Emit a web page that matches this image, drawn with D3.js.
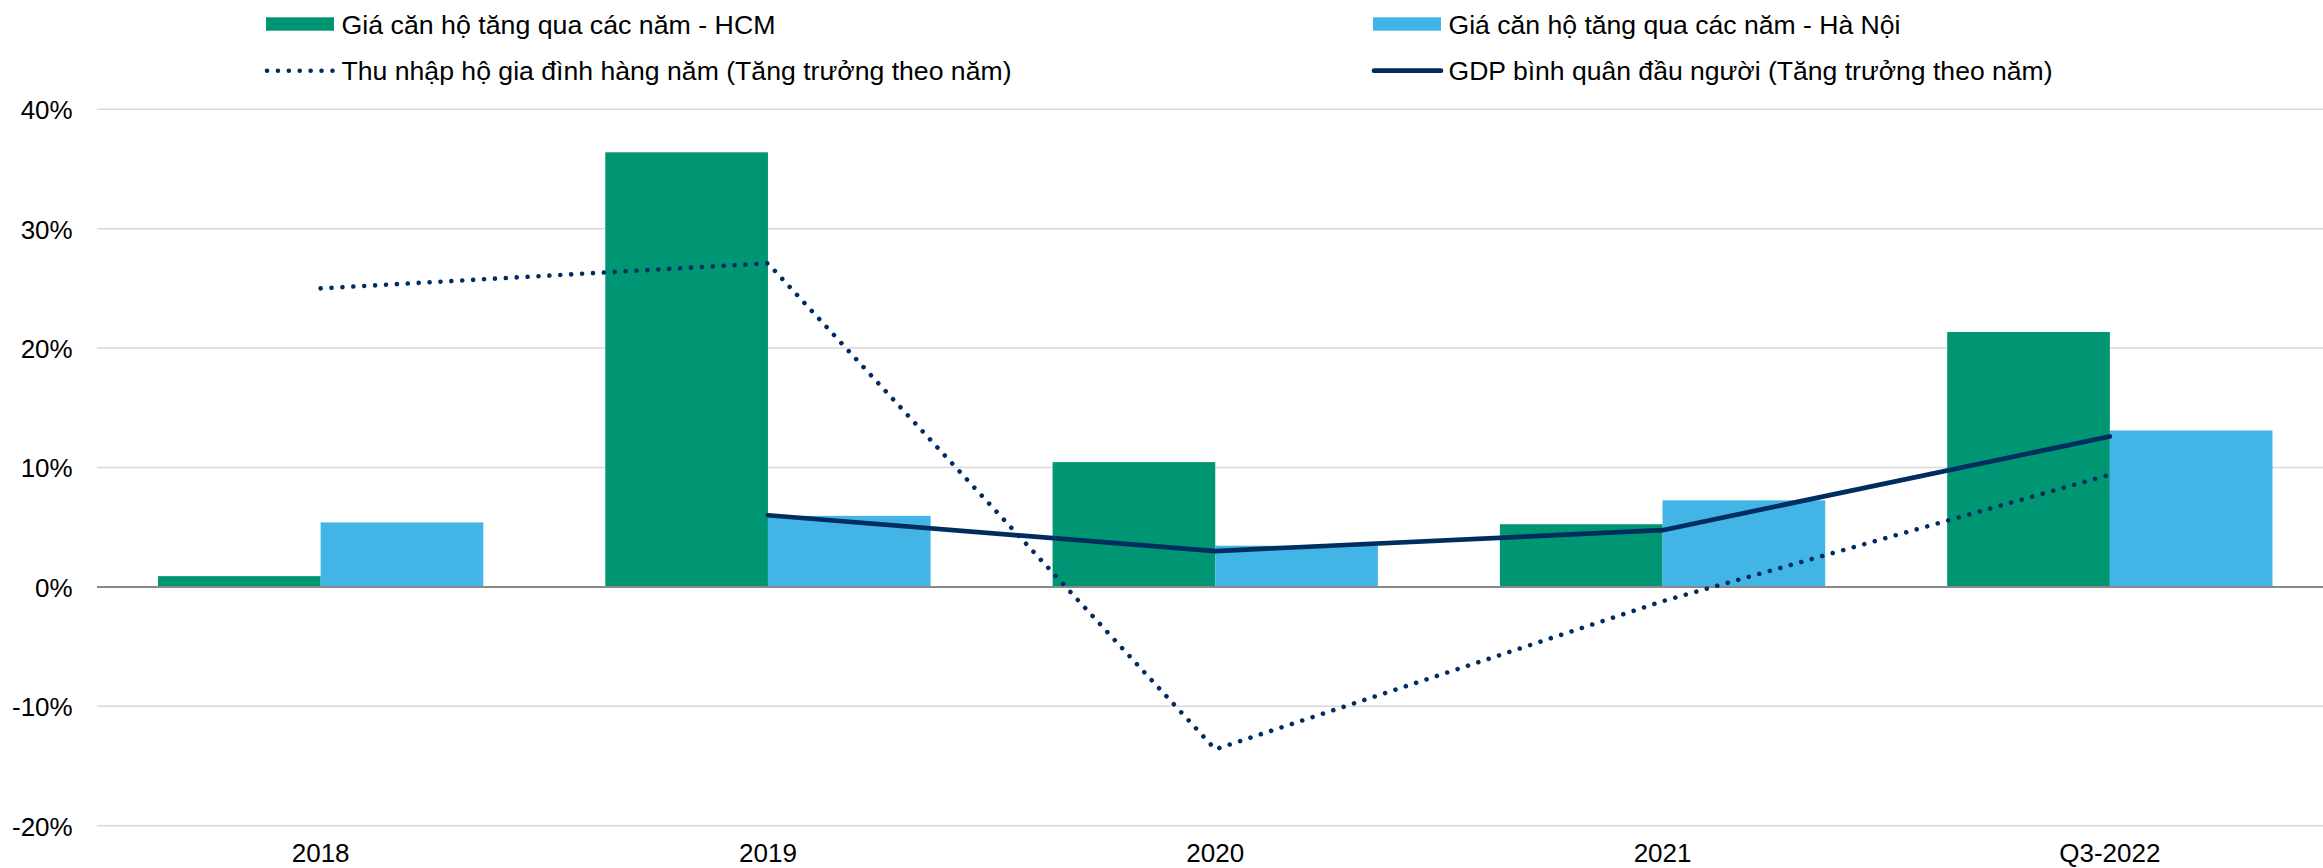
<!DOCTYPE html>
<html>
<head>
<meta charset="utf-8">
<script src="https://cdn.jsdelivr.net/npm/d3@7"></script>
<style>
  html, body { margin: 0; padding: 0; background: #ffffff; }
  svg { display: block; font-family: "Liberation Sans", Arial, sans-serif; }
</style>
</head>
<body>
<svg id="chart" width="2323" height="868"></svg>
<script>
// ---- Data ----
const categories = ["2018", "2019", "2020", "2021", "Q3-2022"];
const hcmPrice = [0.9, 36.4, 10.45, 5.25, 21.35];
const hnPrice = [5.4, 5.95, 3.45, 7.25, 13.1];
const householdIncome = [25.0, 27.1, -13.6, -1.2, 9.4];
const gdpPerCapita = [null, 6.0, 3.0, 4.75, 12.6];
const yTicks = [-20, -10, 0, 10, 20, 30, 40];
const seriesNames = [
  "Giá căn hộ tăng qua các năm - HCM",
  "Giá căn hộ tăng qua các năm - Hà Nội",
  "Thu nhập hộ gia đình hàng năm (Tăng trưởng theo năm)",
  "GDP bình quân đầu người (Tăng trưởng theo năm)"
];

// ---- Styles ----
const COLOR_HCM = "#009673";
const COLOR_HN = "#42B4E6";
const COLOR_NAVY = "#002D5F";
const FONT = 26;

const svg = d3.select("#chart");
const W = 2323;
const plotLeft = 97, plotRight = 2333.5, plotTop = 109.3, plotBottom = 825.7;

const x0 = d3.scaleBand().domain(categories).range([plotLeft, plotRight]).paddingInner(0).paddingOuter(0);
const x1 = d3.scaleBand().domain(["hcm", "hn"]).range([0, x0.bandwidth()]).paddingInner(0).paddingOuter(0.375);
const y = d3.scaleLinear().domain([-20, 40]).range([plotBottom, plotTop]);

// gridlines
const grid = svg.append("g");
grid.selectAll("line").data(yTicks.filter(t => t !== 0)).join("line")
  .attr("x1", plotLeft).attr("x2", W)
  .attr("y1", d => y(d)).attr("y2", d => y(d))
  .attr("stroke", "#d9d9d9").attr("stroke-width", 1.5);

// y-axis labels using d3 axis
const yAxis = d3.axisLeft(y).tickValues(yTicks).tickFormat(d => d + "%").tickSize(0).tickPadding(0);
const yg = svg.append("g").attr("transform", `translate(${72.7},0)`).call(yAxis);
yg.select(".domain").remove();
yg.selectAll("text").attr("font-size", FONT).attr("fill", "#000").attr("font-family", "Liberation Sans, Arial, sans-serif").attr("dy", "0.36em");

// bars
const barsG = svg.append("g");
categories.forEach((c, i) => {
  barsG.append("rect")
    .attr("x", x0(c) + x1("hcm")).attr("width", x1.bandwidth())
    .attr("y", y(Math.max(0, hcmPrice[i]))).attr("height", Math.abs(y(hcmPrice[i]) - y(0)))
    .attr("fill", COLOR_HCM);
  barsG.append("rect")
    .attr("x", x0(c) + x1("hn")).attr("width", x1.bandwidth())
    .attr("y", y(Math.max(0, hnPrice[i]))).attr("height", Math.abs(y(hnPrice[i]) - y(0)))
    .attr("fill", COLOR_HN);
});

// zero line
svg.append("line").attr("x1", plotLeft).attr("x2", W).attr("y1", y(0)).attr("y2", y(0))
  .attr("stroke", "#898989").attr("stroke-width", 2);

// x-axis labels
const xAxis = d3.axisBottom(x0).tickSize(0).tickPadding(0);
const xg = svg.append("g").attr("transform", `translate(0,${862})`).call(xAxis);
xg.select(".domain").remove();
xg.selectAll("text").attr("font-size", FONT).attr("fill", "#000").attr("font-family", "Liberation Sans, Arial, sans-serif").attr("dy", "0");

// lines
const cx = c => x0(c) + x0.bandwidth() / 2;
const lineGen = d3.line().defined(d => d.v !== null).x(d => cx(d.c)).y(d => y(d.v));

svg.append("path")
  .datum(categories.map((c, i) => ({ c, v: householdIncome[i] })))
  .attr("d", lineGen).attr("fill", "none")
  .attr("stroke", COLOR_NAVY).attr("stroke-width", 4.6)
  .attr("stroke-linecap", "round").attr("stroke-dasharray", "0.01 10.9");

svg.append("path")
  .datum(categories.map((c, i) => ({ c, v: gdpPerCapita[i] })))
  .attr("d", lineGen).attr("fill", "none")
  .attr("stroke", COLOR_NAVY).attr("stroke-width", 4.7)
  .attr("stroke-linecap", "round").attr("stroke-linejoin", "round");

// legend
const legend = svg.append("g").attr("font-size", 26.5).attr("fill", "#000");
const legendItems = [
  { name: seriesNames[0], type: "rect", color: COLOR_HCM, x: 266, y: 24, len: 434 },
  { name: seriesNames[1], type: "rect", color: COLOR_HN, x: 1373, y: 24, len: 452 },
  { name: seriesNames[2], type: "dot", color: COLOR_NAVY, x: 266, y: 70.7, len: 670 },
  { name: seriesNames[3], type: "line", color: COLOR_NAVY, x: 1373, y: 70.7, len: 604 }
];
legendItems.forEach(it => {
  const g = legend.append("g");
  if (it.type === "rect") {
    g.append("rect").attr("x", it.x).attr("y", it.y - 6.7).attr("width", 68).attr("height", 13.4).attr("fill", it.color);
  } else if (it.type === "dot") {
    g.append("line").attr("x1", it.x + 1).attr("x2", it.x + 68).attr("y1", it.y).attr("y2", it.y)
      .attr("stroke", it.color).attr("stroke-width", 4.6).attr("stroke-linecap", "round").attr("stroke-dasharray", "0.01 10.9");
  } else {
    g.append("line").attr("x1", it.x + 1).attr("x2", it.x + 68).attr("y1", it.y).attr("y2", it.y)
      .attr("stroke", it.color).attr("stroke-width", 4.7).attr("stroke-linecap", "round");
  }
  g.append("text").attr("x", it.x + 75.5).attr("y", it.y).attr("dy", "0.36em")
    .attr("textLength", it.len).attr("lengthAdjust", "spacingAndGlyphs").text(it.name);
});
</script>
</body>
</html>
